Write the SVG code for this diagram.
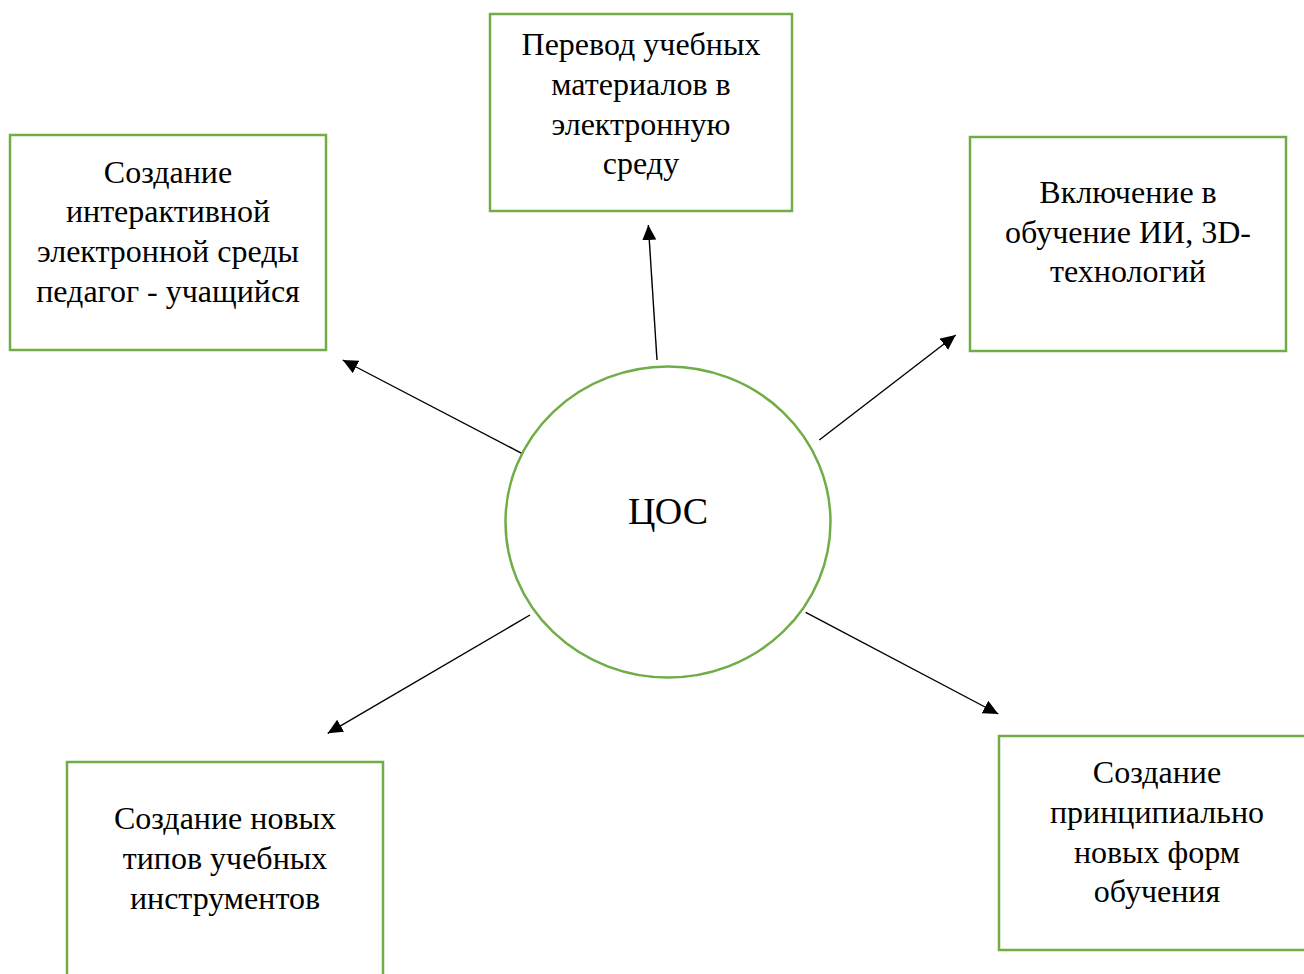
<svg xmlns="http://www.w3.org/2000/svg" width="1304" height="974" viewBox="0 0 1304 974">
<defs>
<marker id="arr" markerUnits="userSpaceOnUse" markerWidth="16" markerHeight="15" refX="15" refY="7" orient="auto">
<path d="M0,0 L15,7 L0,14 z" fill="#000"/>
</marker>
<style>
.box{fill:#fff;stroke:#70AD47;stroke-width:2.5}
.t{font-family:"Liberation Serif","Times New Roman",serif;font-size:32px;fill:#000;text-anchor:middle}
.c{stroke:#000;stroke-width:1.4;fill:none;marker-end:url(#arr)}
</style>
</defs>
<rect width="1304" height="974" fill="#fff"/>
<g id="connectors">
<line class="c" x1="657" y1="360" x2="648.3" y2="225"/>
<line class="c" x1="521.7" y1="453.3" x2="342.7" y2="360"/>
<line class="c" x1="819.3" y1="440" x2="955.7" y2="335"/>
<line class="c" x1="530" y1="615" x2="327.7" y2="733.3"/>
<line class="c" x1="805.7" y1="612.3" x2="998.3" y2="714"/>
</g>
<g id="center">
<ellipse class="box" cx="668" cy="522" rx="162.5" ry="155.5"/>
<text class="t" x="668" y="524" style="font-size:38px">ЦОС</text>
</g>
<g id="node-top">
<rect class="box" x="490" y="14" width="302" height="197"/>
<text class="t" x="641" y="55">Перевод учебных</text>
<text class="t" x="641" y="95">материалов в</text>
<text class="t" x="641" y="135">электронную</text>
<text class="t" x="641" y="174">среду</text>
</g>
<g id="node-left">
<rect class="box" x="10" y="135" width="316" height="215"/>
<text class="t" x="168" y="183">Создание</text>
<text class="t" x="168" y="222">интерактивной</text>
<text class="t" x="168" y="262">электронной среды</text>
<text class="t" x="168" y="302">педагог - учащийся</text>
</g>
<g id="node-right">
<rect class="box" x="970" y="137" width="316" height="214"/>
<text class="t" x="1128" y="203">Включение в</text>
<text class="t" x="1128" y="243">обучение ИИ, 3D-</text>
<text class="t" x="1128" y="282">технологий</text>
</g>
<g id="node-bottom-right">
<rect class="box" x="999" y="736" width="316" height="214"/>
<text class="t" x="1157" y="783">Создание</text>
<text class="t" x="1157" y="823">принципиально</text>
<text class="t" x="1157" y="863">новых форм</text>
<text class="t" x="1157" y="902">обучения</text>
</g>
<g id="node-bottom-left">
<rect class="box" x="67" y="762" width="316" height="230"/>
<text class="t" x="225" y="829">Создание новых</text>
<text class="t" x="225" y="869">типов учебных</text>
<text class="t" x="225" y="909">инструментов</text>
</g>
</svg>
